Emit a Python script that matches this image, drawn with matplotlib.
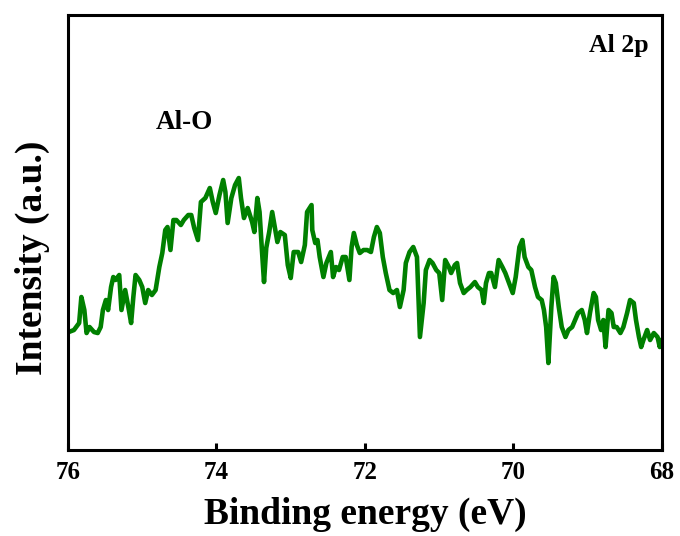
import matplotlib
matplotlib.use("Agg")
import matplotlib.pyplot as plt
import numpy as np

# Al 2p spectrum: binding energy (eV) and intensity (a.u.)
energy = [75.99, 75.92, 75.85, 75.82, 75.78, 75.75, 75.71, 75.65, 75.60, 75.56,
          75.53, 75.49, 75.46, 75.42, 75.39, 75.36, 75.31, 75.28, 75.23, 75.18,
          75.15, 75.12, 75.09, 75.04, 75.00, 74.96, 74.92, 74.87, 74.82, 74.77,
          74.73, 74.69, 74.66, 74.62, 74.58, 74.54, 74.48, 74.44, 74.38, 74.34,
          74.30, 74.25, 74.21, 74.15, 74.09, 74.05, 74.01, 73.96, 73.91, 73.88,
          73.85, 73.80, 73.75, 73.70, 73.67, 73.63, 73.58, 73.52, 73.49, 73.45,
          73.42, 73.39, 73.36, 73.33, 73.29, 73.25, 73.22, 73.18, 73.14, 73.08,
          73.04, 73.00, 72.96, 72.90, 72.86, 72.81, 72.78, 72.72, 72.71, 72.67,
          72.64, 72.61, 72.56, 72.52, 72.46, 72.43, 72.39, 72.35, 72.30, 72.26,
          72.21, 72.18, 72.15, 72.11, 72.07, 72.02, 71.97, 71.92, 71.88, 71.84,
          71.80, 71.76, 71.72, 71.67, 71.62, 71.57, 71.53, 71.48, 71.45, 71.40,
          71.35, 71.30, 71.26, 71.21, 71.18, 71.13, 71.09, 71.04, 71.00, 70.96,
          70.92, 70.87, 70.84, 70.79, 70.76, 70.72, 70.67, 70.63, 70.58, 70.52,
          70.48, 70.43, 70.40, 70.37, 70.33, 70.30, 70.25, 70.20, 70.15, 70.11,
          70.06, 70.01, 69.97, 69.92, 69.88, 69.85, 69.80, 69.76, 69.71, 69.67,
          69.62, 69.59, 69.56, 69.53, 69.49, 69.46, 69.43, 69.39, 69.35, 69.30,
          69.26, 69.21, 69.17, 69.13, 69.08, 69.04, 69.01, 68.97, 68.92, 68.89,
          68.86, 68.82, 68.79, 68.76, 68.72, 68.68, 68.65, 68.61, 68.56, 68.52,
          68.47, 68.43, 68.38, 68.35, 68.31, 68.28, 68.25, 68.20, 68.16, 68.11,
          68.06, 68.03, 68.02]
intensity = [118, 120, 127, 153, 140, 117, 123, 118, 117, 123,
             140, 150, 140, 163, 173, 170, 175, 140, 160, 140,
             127, 153, 175, 170, 163, 147, 160, 155, 160, 183,
             197, 220, 223, 200, 230, 230, 225, 230, 235, 235,
             222, 210, 248, 252, 262, 248, 237, 255, 270, 258,
             227, 252, 265, 272, 252, 232, 242, 228, 218, 252,
             238, 202, 168, 202, 218, 238, 225, 208, 218, 215,
             185, 172, 198, 198, 188, 205, 238, 245, 220, 207,
             210, 193, 173, 187, 198, 173, 183, 180, 193, 193,
             170, 203, 217, 205, 197, 200, 200, 198, 213, 223,
             217, 193, 177, 160, 157, 160, 143, 160, 187, 198,
             203, 193, 113, 147, 180, 190, 187, 180, 177, 150,
             190, 183, 177, 185, 187, 167, 157, 160, 163, 168,
             163, 160, 147, 167, 177, 177, 163, 190, 183, 177,
             167, 157, 173, 203, 210, 193, 183, 180, 163, 153,
             150, 140, 123, 87, 143, 173, 167, 143, 123, 113,
             120, 123, 130, 137, 140, 130, 117, 137, 157, 153,
             130, 120, 130, 103, 140, 137, 123, 123, 117, 123,
             137, 150, 147, 130, 113, 103, 110, 120, 110, 117,
             113, 103, 110]

xticks = [76, 74, 72, 70, 68]

plt.rcParams['font.family'] = ['Liberation Serif', 'DejaVu Serif']
plt.rcParams['font.weight'] = 'bold'

fig = plt.figure(figsize=(6.8, 5.36), dpi=100)
ax = fig.add_axes([0.1, 0.1604, 0.8735, 0.8116])

ax.plot(energy, intensity, color='green', linewidth=3.3)

ax.set_xlim(76, 68)
ax.set_ylim(0, 435)
ax.set_xticks(xticks)
ax.set_xticklabels([str(t) for t in xticks])
ax.set_yticks([])
ax.tick_params(axis='x', direction='in', length=5, width=2.2, pad=8,
               labelsize=18)
for sp in ax.spines.values():
    sp.set_linewidth(2.2)

ax.set_xlabel('Binding energy (eV)', fontsize=27, fontweight='bold', labelpad=9)
ax.set_ylabel('Intensity (a.u.)', fontsize=27, fontweight='bold')
ax.yaxis.set_label_coords(-0.030, 0.441)

ax.text(74.43, 328, 'Al-O', fontsize=19.5, fontweight='bold',
        ha='center', va='center')
ax.text(68.58, 405, 'Al 2p', fontsize=18.5, fontweight='bold',
        ha='center', va='center')

fig.savefig('out.png', dpi=100)
